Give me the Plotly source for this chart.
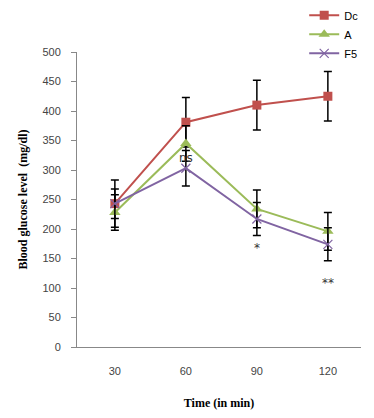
import plotly.graph_objects as go

time_min = [30, 60, 90, 120]
dc_vals = [243, 381, 410, 425]
dc_err = [40, 42, 42, 42]
a_vals = [228, 345, 234, 196]
a_err = [30, 30, 32, 32]
f5_vals = [243, 303, 217, 174]
f5_err = [25, 30, 28, 28]
annot_text = ["ns", "*", "**"]
annot_x = [60, 90, 120]
annot_y = [320, 168, 108]

fig = go.Figure()
eb = dict(type="data", visible=True, color="black", thickness=1.5, width=4)
fig.add_trace(go.Scatter(x=time_min, y=dc_vals, name="Dc", mode="lines+markers",
                         line=dict(color="#C0504D", width=2),
                         marker=dict(symbol="square", size=9, color="#C0504D"),
                         error_y=dict(array=dc_err, **eb)))
fig.add_trace(go.Scatter(x=time_min, y=a_vals, name="A", mode="lines+markers",
                         line=dict(color="#9BBB59", width=2),
                         marker=dict(symbol="triangle-up", size=10, color="#9BBB59"),
                         error_y=dict(array=a_err, **eb)))
fig.add_trace(go.Scatter(x=time_min, y=f5_vals, name="F5", mode="lines+markers",
                         line=dict(color="#8064A2", width=2),
                         marker=dict(symbol="x-thin", size=9, line=dict(color="#8064A2", width=1.2)),
                         error_y=dict(array=f5_err, **eb)))

for t, x, y in zip(annot_text, annot_x, annot_y):
    fig.add_annotation(x=x, y=y, text=t, showarrow=False,
                       font=dict(family="DejaVu Sans", size=12, color="#333"))

fig.update_layout(
    width=374, height=418,
    margin=dict(l=69, r=21, t=44, b=79, autoexpand=False),
    plot_bgcolor="white", paper_bgcolor="white",
    showlegend=True,
    legend=dict(x=0.80, y=1.06, xanchor="left", yanchor="middle",
                font=dict(family="Liberation Sans", size=11, color="black"),
                bgcolor="rgba(0,0,0,0)", tracegroupgap=0, itemwidth=30),
    xaxis=dict(range=[14, 134], tickvals=time_min, ticktext=[str(t) for t in time_min],
               showline=True, linecolor="#888", linewidth=1, showgrid=False, zeroline=False,
               ticks="", ticklabelstandoff=14,
               tickfont=dict(family="Liberation Sans", size=11, color="#444"),
               title=dict(text="<b>Time (in min)</b>", standoff=22,
                          font=dict(family="Liberation Serif", size=12, color="black"))),
    yaxis=dict(range=[0, 500], dtick=50, showline=True, linecolor="#888", linewidth=1,
               showgrid=False, zeroline=False, ticks="outside", ticklen=5, tickcolor="#888",
               ticklabelstandoff=8,
               tickfont=dict(family="Liberation Sans", size=11, color="#444"),
               title=dict(text="<b>Blood glucose level  (mg/dl)</b>", standoff=12,
                          font=dict(family="Liberation Serif", size=12, color="black"))),
)

fig.write_html("out.html")
